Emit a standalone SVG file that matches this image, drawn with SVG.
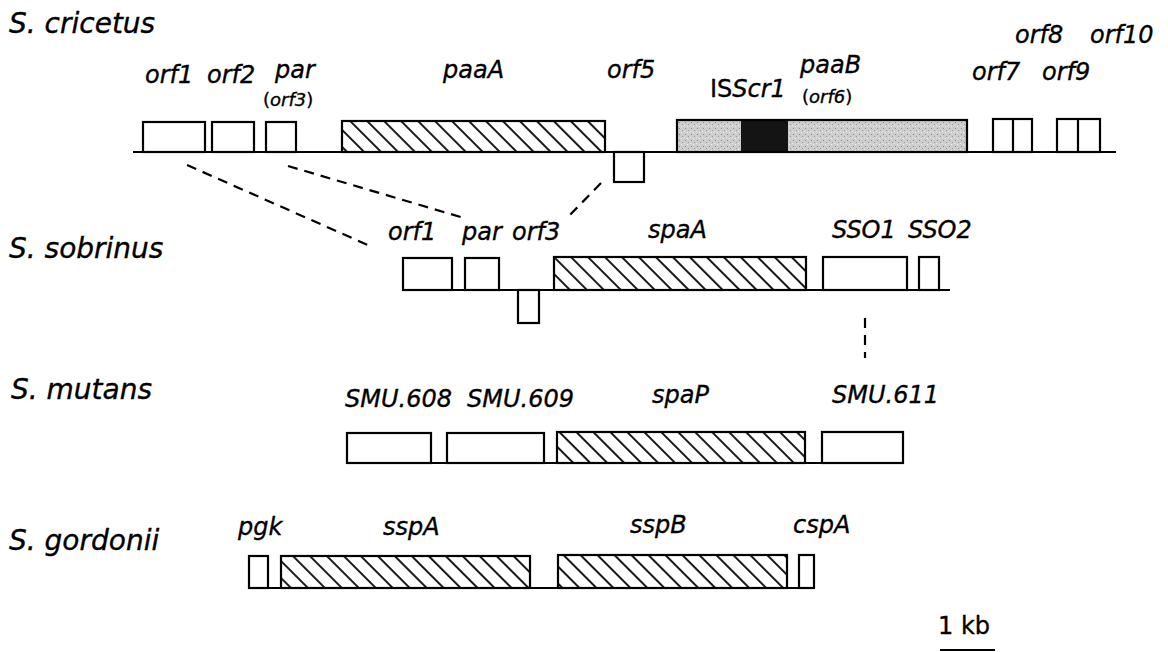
<svg xmlns="http://www.w3.org/2000/svg" width="1168" height="652" viewBox="0 0 1168 652">
<style>
text{font-family:"DejaVu Sans","Liberation Sans",sans-serif;fill:#000;stroke:#000;stroke-width:0.35}
.sp{font-size:28px;font-style:oblique}
.g{font-size:24px;font-style:oblique}
.gs{font-size:18px}
.i{font-style:oblique}
.u{font-style:normal}
.box{fill:#fff;stroke:#000;stroke-width:2.2}
.hb{fill:url(#hatch);stroke:#000;stroke-width:2.2}
.bb{stroke:#000;stroke-width:2.2;fill:none}
.dash{stroke:#000;stroke-width:2.2;stroke-dasharray:10 7;fill:none}
</style>
<defs>
<pattern id="hatch" patternUnits="userSpaceOnUse" width="12" height="12" patternTransform="rotate(-45)">
<rect width="12" height="12" fill="#fff"/>
<line x1="6" y1="-1" x2="6" y2="13" stroke="#000" stroke-width="1.8"/>
</pattern>
<pattern id="stipple" patternUnits="userSpaceOnUse" width="6" height="6">
<rect width="6" height="6" fill="#cdcdcd"/>
<rect x="1" y="2" width="1" height="1" fill="#8c8c8c"/>
<rect x="4" y="4" width="1" height="1" fill="#9c9c9c"/>
<rect x="3" y="0" width="1" height="1" fill="#f2f2f2"/>
<rect x="0" y="5" width="1" height="1" fill="#eeeeee"/>
</pattern>
</defs>
<rect width="1168" height="652" fill="#fff"/>

<!-- backbones -->
<g id="backbones">
<line class="bb" x1="133" y1="152" x2="1116" y2="152"/>
<line class="bb" x1="403" y1="290" x2="950" y2="290"/>
<line class="bb" x1="347" y1="463" x2="903" y2="463"/>
<line class="bb" x1="249" y1="588" x2="814" y2="588"/>
</g>

<!-- connectors -->
<g id="connectors">
<line class="dash" x1="187" y1="165" x2="370" y2="246"/>
<line class="dash" x1="288" y1="166" x2="464" y2="218"/>
<line class="dash" x1="601" y1="183" x2="567" y2="218"/>
<line class="dash" x1="865" y1="318" x2="865" y2="358"/>
</g>

<!-- species labels -->
<g id="species">
<text class="sp" x="9" y="33">S. cricetus</text>
<text class="sp" x="9" y="258">S. sobrinus</text>
<text class="sp" x="11" y="399">S. mutans</text>
<text class="sp" x="9" y="550">S. gordonii</text>
</g>

<!-- S. cricetus -->
<g id="cr-orf1"><rect class="box" x="143" y="122" width="62" height="30"/><text class="g" x="145" y="83">orf1</text></g>
<g id="cr-orf2"><rect class="box" x="212" y="122" width="42" height="30"/><text class="g" x="207" y="83">orf2</text></g>
<g id="cr-par"><rect class="box" x="266" y="122" width="30" height="30"/><text class="g" x="275" y="78">par</text><text class="gs" x="263" y="106"><tspan class="u">(</tspan><tspan class="i">orf3</tspan><tspan class="u">)</tspan></text></g>
<g id="cr-paaA"><rect class="hb" x="342" y="121" width="263" height="31"/><text class="g" x="443" y="78">paaA</text></g>
<g id="cr-orf5"><rect class="box" x="614" y="152" width="30" height="30"/><text class="g" x="607" y="78">orf5</text></g>
<g id="cr-paaB">
<rect x="677" y="120" width="290" height="32" fill="url(#stipple)"/>
<rect x="741" y="120" width="47" height="32" fill="#141414"/>
<rect x="677" y="120" width="290" height="32" fill="none" stroke="#000" stroke-width="2.2"/>
<text class="g" x="710" y="97"><tspan class="u">IS</tspan><tspan class="i">Scr1</tspan></text>
<text class="g" x="800" y="73">paaB</text>
<text class="gs" x="802" y="103"><tspan class="u">(</tspan><tspan class="i">orf6</tspan><tspan class="u">)</tspan></text>
</g>
<g id="cr-orf7-8"><rect class="box" x="993" y="119" width="39" height="33"/><line class="bb" x1="1013" y1="119" x2="1013" y2="152"/><text class="g" x="972" y="80">orf7</text><text class="g" x="1015" y="43">orf8</text></g>
<g id="cr-orf9-10"><rect class="box" x="1057" y="119" width="43" height="33"/><line class="bb" x1="1078" y1="119" x2="1078" y2="152"/><text class="g" x="1042" y="80">orf9</text><text class="g" x="1090" y="43">orf10</text></g>

<!-- S. sobrinus -->
<g id="so-orf1"><rect class="box" x="403" y="258" width="49" height="32"/><text class="g" x="388" y="240">orf1</text></g>
<g id="so-par"><rect class="box" x="465" y="258" width="34" height="32"/><text class="g" x="462" y="240">par</text></g>
<g id="so-orf3"><rect class="box" x="518" y="290" width="21" height="33"/><text class="g" x="512" y="240">orf3</text></g>
<g id="so-spaA"><rect class="hb" x="554" y="257" width="252" height="33"/><text class="g" x="648" y="238">spaA</text></g>
<g id="so-SSO1"><rect class="box" x="823" y="257" width="84" height="33"/><text class="g" x="832" y="238">SSO1</text></g>
<g id="so-SSO2"><rect class="box" x="919" y="257" width="20" height="33"/><text class="g" x="908" y="238">SSO2</text></g>

<!-- S. mutans -->
<g id="mu-608"><rect class="box" x="347" y="433" width="84" height="30"/><text class="g" x="345" y="407">SMU.608</text></g>
<g id="mu-609"><rect class="box" x="447" y="433" width="97" height="30"/><text class="g" x="467" y="407">SMU.609</text></g>
<g id="mu-spaP"><rect class="hb" x="557" y="432" width="248" height="31"/><text class="g" x="652" y="403">spaP</text></g>
<g id="mu-611"><rect class="box" x="822" y="432" width="81" height="31"/><text class="g" x="832" y="403">SMU.611</text></g>

<!-- S. gordonii -->
<g id="go-pgk"><rect class="box" x="249" y="556" width="19" height="32"/><text class="g" x="238" y="535">pgk</text></g>
<g id="go-sspA"><rect class="hb" x="281" y="556" width="249" height="32"/><text class="g" x="383" y="535">sspA</text></g>
<g id="go-sspB"><rect class="hb" x="558" y="555" width="229" height="33"/><text class="g" x="630" y="533">sspB</text></g>
<g id="go-cspA"><rect class="box" x="799" y="555" width="15" height="33"/><text class="g" x="793" y="533">cspA</text></g>

<!-- scale bar -->
<g id="scale">
<text x="938" y="634" font-size="24">1 kb</text>
<line x1="940" y1="650" x2="995" y2="650" stroke="#000" stroke-width="2.2"/>
</g>
</svg>
